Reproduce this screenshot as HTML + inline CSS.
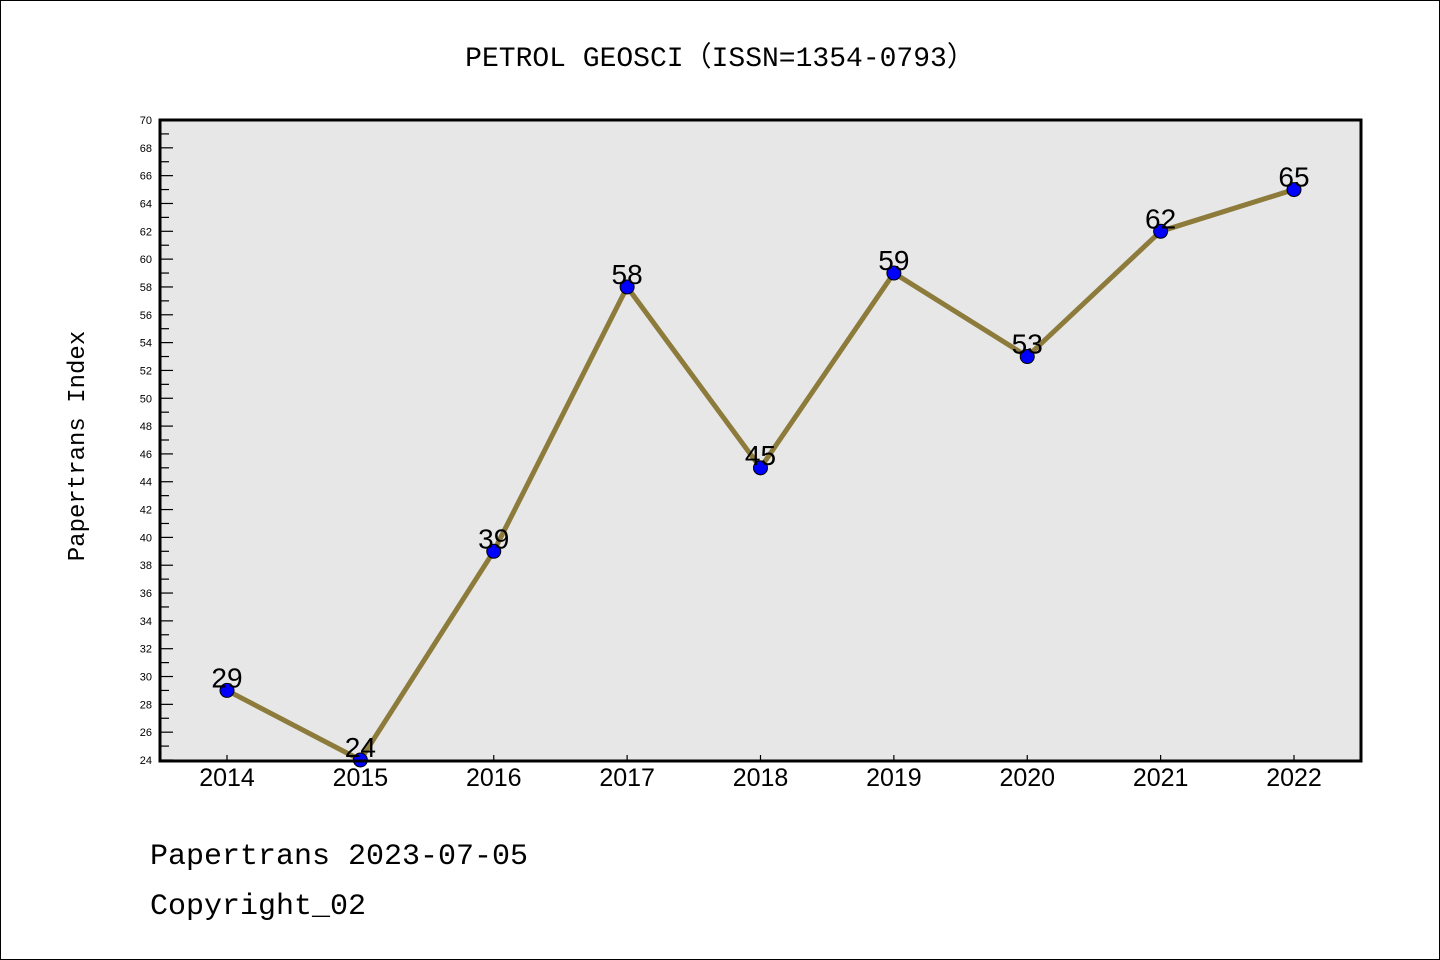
<!DOCTYPE html>
<html><head><meta charset="utf-8"><style>
body{margin:0;background:#fff}
svg{display:block}
text{font-family:"Liberation Mono","DejaVu Sans Mono",monospace}
text.sans{font-family:"Liberation Sans","DejaVu Sans",sans-serif}
</style></head><body>
<svg id="c" width="1440" height="960" xmlns="http://www.w3.org/2000/svg">
<rect x="0.5" y="0.5" width="1439" height="959" fill="#fff" stroke="#000"/>
<text x="720" y="66" text-anchor="middle" font-size="28">PETROL GEOSCI（ISSN=1354-0793）</text>
<rect x="160" y="120" width="1201" height="641" fill="#e7e7e7"/>
<g id="grid"></g>
<g id="marks"></g>
<path d="M160,120 H1361 V761 H160 Z" fill="none" stroke="#000" stroke-width="3"/>
<text transform="translate(84,446) rotate(-90)" text-anchor="middle" font-size="24">Papertrans Index</text>
<text x="150" y="864" font-size="30">Papertrans 2023-07-05</text>
<text x="150" y="914" font-size="30">Copyright_02</text>
</svg>
<script>
const years=["2014","2015","2016","2017","2018","2019","2020","2021","2022"];
const values=[29,24,39,58,45,59,53,62,65];
const yMin=24, yMax=70;
const NS="http://www.w3.org/2000/svg";
function X(i){return 227+i*(1294-227)/(years.length-1);}
function Y(v){return 760-(v-yMin)*(640/(yMax-yMin));}
function mk(t,a,p){const e=document.createElementNS(NS,t);for(const k in a)e.setAttribute(k,a[k]);p.appendChild(e);return e;}
const g=document.getElementById('grid'), m=document.getElementById('marks');
for(let v=yMin;v<=yMax;v++){
  const major=v%2===0;
  const l=mk('line',{x1:160,x2:160+(major?13:9),y1:Y(v),y2:Y(v),stroke:'#000','stroke-width':1.2},g);
  
  
  if(major){const t=mk('text',{x:152,y:Y(v)+4,'text-anchor':'end','font-size':11,'class':'sans'},g);t.textContent=v;
  
  }
}
years.forEach((y,i)=>{
  const l=mk('line',{x1:X(i),x2:X(i),y1:755,y2:761,stroke:'#000','stroke-width':1.2},g);
  
  
  const t=mk('text',{x:X(i),y:786,'text-anchor':'middle','font-size':25,'class':'sans'},g);t.textContent=y;
  
  
});
const pl=mk('polyline',{points:values.map((v,i)=>X(i)+','+Y(v)).join(' '),fill:'none',stroke:'#8c7b3a','stroke-width':5,'stroke-linejoin':'round'},m);


values.forEach((v,i)=>{
  const c=mk('circle',{cx:X(i),cy:Y(v),r:7,fill:'#0000ff',stroke:'#000','stroke-width':1},m);
  
  
  const t=mk('text',{x:X(i),y:Y(v)-3,'text-anchor':'middle','font-size':28,'class':'sans'},m);t.textContent=v;
  
  
});
</script>
</body></html>
